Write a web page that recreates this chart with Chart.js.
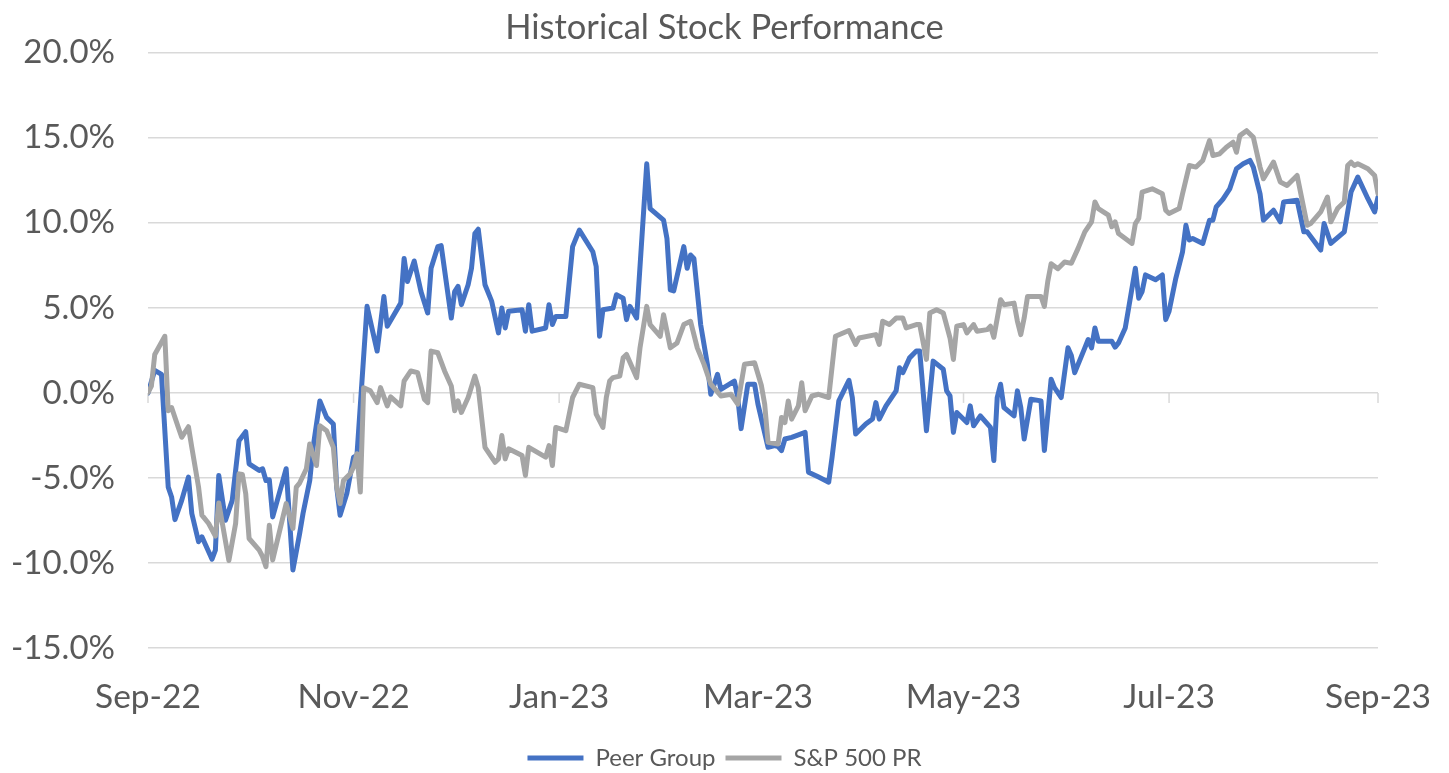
<!DOCTYPE html>
<html>
<head>
<meta charset="utf-8">
<title>Historical Stock Performance</title>
<script src="https://cdn.jsdelivr.net/npm/chart.js@4.4.0/dist/chart.umd.min.js"></script>
<style>
  html, body { margin: 0; padding: 0; background: #fff; overflow: hidden; }
  #wrap { width: 1449px; height: 780px; }
</style>
</head>
<body>
<div id="wrap"><canvas id="myChart"></canvas></div>
<script>
// x = days since 2022-09-01, y = % return
const tickDays = [0, 61, 122, 181, 242, 303, 365];
const tickLabels = ['Sep-22', 'Nov-22', 'Jan-23', 'Mar-23', 'May-23', 'Jul-23', 'Sep-23'];
const seriesNames = ['Peer Group', 'S&P 500 PR'];

const peerDays = [
  0, 2, 4, 6, 7, 8, 10, 12, 13, 15, 16, 19, 20, 21, 23, 25, 27, 29, 30, 33, 34, 35, 36, 37, 41, 43,
  45, 46, 48, 49, 51, 53, 55, 56, 57, 59, 61, 62, 65, 68, 70, 71, 73, 75, 76, 77, 79, 81, 83, 84, 86, 87,
  90, 91, 92, 93, 95, 96, 97, 98, 100, 102, 104, 105, 106, 107, 111, 112, 113, 114, 118, 119, 120, 121, 124, 126, 128,
  132, 133, 134, 135, 138, 139, 141, 142, 143, 145, 148, 149, 153, 154, 155, 156, 159, 160, 161, 162, 164, 166, 167,
  169, 170, 174, 175, 176, 178, 180, 181, 184, 186, 187, 188, 189, 191, 195, 196, 199, 202, 203, 205, 208, 209, 210,
  213, 215, 216, 217, 219, 222, 223, 224, 226, 228, 229, 231, 233, 236, 237, 238, 239, 240, 243, 244, 245, 247,
  250, 251, 252, 253, 254, 257, 258, 259, 260, 262, 265, 266, 268, 269, 271, 273, 274, 275, 278, 279, 280, 281, 282,
  286, 287, 288, 290, 291, 293, 294, 295, 296, 299, 301, 302, 303, 305, 307, 308, 309, 310, 313, 315, 316, 317,
  319, 321, 323, 325, 327, 328, 330, 331, 334, 336, 337, 341, 343, 344, 348, 349, 351, 355, 357, 359, 362, 364, 365
];
const peerValues = [
  0.0, 1.33, 1.09, -5.54, -6.12, -7.45, -6.32, -4.95, -7.09, -8.75, -8.46, -9.78, -9.24, -4.85, -7.49, -6.32, -2.81, -2.28, -4.17, -4.56, -4.46, -5.15, -5.11, -7.29, -4.46, -10.41,
  -8.27, -7.09, -5.15, -3.2, -0.47, -1.44, -1.83, -5.54, -7.19, -5.92, -3.78, -3.68, 5.09, 2.46, 5.67, 3.92, 4.6, 5.28, 7.91, 6.55, 7.76, 5.96, 4.7, 7.33, 8.6, 8.66,
  4.4, 5.96, 6.26, 5.19, 6.36, 7.33, 9.37, 9.63, 6.36, 5.38, 3.53, 4.99, 3.82, 4.8, 4.89, 3.63, 5.19, 3.63, 3.82, 5.19, 4.02, 4.5, 4.5, 8.6, 9.57,
  8.3, 7.43, 3.33, 4.89, 4.99, 5.77, 5.57, 4.31, 5.09, 4.4, 13.47, 10.84, 10.16, 9.08, 6.06, 6.0, 8.6, 7.33, 8.11, 7.91, 4.02, 1.68, -0.08,
  1.09, 0.21, 0.7, -0.27, -2.1, 0.51, 0.51, -0.66, -3.2, -3.1, -3.16, -3.39, -2.71, -2.61, -2.32, -4.66, -4.95, -5.25, -3.78, -0.47, 0.74, -0.27, -2.42,
  -1.83, -1.54, -0.57, -1.54, -0.76, 0.12, 1.48, 1.19, 2.06, 2.46, 2.46, -2.22, 1.87, 1.39, 0.12, -0.18, -2.32, -1.15, -1.74, -0.76, -1.93, -1.35,
  -2.03, -3.98, -0.27, 0.51, -0.86, -1.35, 0.12, -0.86, -2.71, -0.37, -0.47, -3.39, 0.8, 0.31, -0.27, 2.65, 2.2, 1.19, 2.65, 3.14, 2.65, 3.82, 3.04,
  3.04, 2.69, 2.94, 3.82, 4.99, 7.33, 5.57, 5.96, 6.94, 6.65, 6.94, 4.31, 4.8, 6.74, 8.3, 9.86, 8.99, 9.08, 8.79, 10.16, 10.16, 10.94,
  11.4, 12.0, 13.18, 13.47, 13.67, 13.28, 11.71, 10.16, 10.74, 10.06, 11.23, 11.33, 9.47, 9.47, 8.4, 9.96, 8.79, 9.47, 11.81, 12.69, 11.42, 10.64, 11.52
];

const spDays = [
  0, 1, 2, 5, 6, 7, 9, 10, 12, 13, 15, 16, 18, 20, 21, 24, 26, 27, 28, 29, 30, 33, 34, 35, 36, 37, 41, 43, 44, 45,
  47, 48, 50, 51, 53, 55, 56, 57, 58, 60, 61, 62, 63, 64, 66, 68, 69, 71, 72, 75, 76, 78, 80, 82, 83, 84, 86, 88,
  90, 91, 92, 93, 95, 97, 98, 100, 103, 104, 105, 106, 107, 111, 112, 113, 118, 119, 120, 121, 124, 126, 128,
  132, 133, 135, 136, 137, 138, 140, 141, 142, 145, 146, 148, 149, 152, 153, 155, 157, 159, 161, 163, 165, 167,
  170, 173, 175, 177, 180, 182, 183, 184, 187, 188, 189, 190, 191, 193, 194, 195, 197, 199, 202, 204, 208, 210, 211,
  216, 217, 218, 220, 222, 224, 225, 228, 229, 231, 232, 234, 236, 238, 239, 240, 242, 243, 245, 246, 249,
  250, 251, 253, 254, 257, 258, 259, 260, 261, 265, 266, 267, 268, 270, 272, 274, 276, 278, 280, 281, 282,
  285, 286, 287, 288, 292, 293, 294, 295, 298, 301, 302, 303, 306, 307, 309, 311, 313, 315, 316, 318,
  320, 322, 323, 324, 326, 328, 330, 331, 334, 336, 338, 341, 344, 345, 348, 350, 351, 353, 355, 356, 357, 358, 359, 362, 364, 365
];
const spValues = [
  0.02, 0.4, 2.26, 3.33, -1.05, -0.86, -2.03, -2.61, -1.99, -3.2, -5.54, -7.19, -7.68, -8.42, -6.47, -9.86, -7.68, -4.76, -4.8, -5.92, -8.56, -9.24, -9.63, -10.22, -7.78, -9.82, -6.51, -7.97, -5.54, -5.3,
  -4.46, -3.0, -4.27, -1.93, -2.22, -3.2, -5.54, -6.51, -5.15, -4.76, -4.37, -3.58, -5.83, 0.31, 0.12, -0.57, 0.31, -0.76, -0.23, -0.76, 0.7, 1.29, 1.19, -0.37, -0.57, 2.46, 2.36, 1.29,
  0.41, -1.05, -0.47, -1.15, -0.27, 0.99, 0.31, -3.2, -4.08, -3.88, -2.51, -3.88, -3.29, -3.68, -4.85, -3.2, -3.78, -3.1, -4.27, -2.03, -2.22, -0.27, 0.51,
  0.31, -1.25, -2.03, -0.27, 0.7, 0.9, 0.99, 2.06, 2.26, 0.9, 2.65, 5.09, 4.02, 3.33, 4.6, 2.65, 2.94, 4.02, 4.21, 2.65, 1.68, 0.51,
  -0.18, -0.08, -0.66, 1.68, 1.77, 0.45, -0.66, -2.9, -3.0, -1.44, -1.74, -0.47, -1.54, -0.76, 0.6, -1.05, -0.18, -0.08, -0.27, 3.33, 3.67, 2.85, 3.23,
  3.43, 2.85, 4.21, 4.02, 4.4, 4.4, 3.82, 4.02, 4.02, 1.97, 4.7, 4.89, 4.7, 3.23, 1.97, 3.92, 4.02, 3.53, 4.02, 3.63, 3.72,
  3.92, 3.27, 5.48, 5.19, 5.28, 4.21, 3.43, 4.4, 5.67, 5.67, 5.09, 6.55, 7.6, 7.3, 7.7, 7.62, 8.5, 9.47, 10.06, 11.23, 10.84,
  10.45, 9.77, 10.06, 9.37, 8.79, 9.96, 10.26, 11.81, 12.0, 11.71, 10.74, 10.55, 10.84, 11.71, 13.37, 13.28, 13.67, 14.84, 13.96, 14.06,
  14.45, 14.74, 14.15, 15.13, 15.42, 15.03, 13.28, 12.59, 13.57, 12.4, 12.2, 12.79, 9.86, 9.96, 10.64, 11.52, 10.06, 10.84, 11.23, 13.37, 13.57, 13.37, 13.47, 13.18, 12.79, 11.71
];

const fontFamily = 'Lato, "Noto Sans", sans-serif';
Chart.defaults.font.family = fontFamily;
Chart.defaults.color = '#595959';

// small tick marks hanging under the 0% line, like the Excel axis
const zeroAxisTicks = {
  id: 'zeroAxisTicks',
  beforeDatasetsDraw(chart) {
    const { ctx, scales: { x, y } } = chart;
    const y0 = y.getPixelForValue(0);
    ctx.save();
    ctx.strokeStyle = '#d9d9d9';
    ctx.lineWidth = 1.5;
    tickDays.forEach(d => {
      const px = x.getPixelForValue(d);
      ctx.beginPath();
      ctx.moveTo(px, y0);
      ctx.lineTo(px, y0 + 10);
      ctx.stroke();
    });
    ctx.restore();
  }
};

const toPoints = (days, values) => days.map((d, i) => ({ x: d, y: values[i] }));

new Chart(document.getElementById('myChart'), {
  type: 'line',
  data: {
    datasets: [
      {
        label: seriesNames[0],
        data: toPoints(peerDays, peerValues),
        borderColor: '#4472c4',
        backgroundColor: '#4472c4',
        borderWidth: 5,
        borderJoinStyle: 'round',
        borderCapStyle: 'round',
        pointRadius: 0,
        tension: 0,
        order: 1,
      },
      {
        label: seriesNames[1],
        data: toPoints(spDays, spValues),
        borderColor: '#a5a5a5',
        backgroundColor: '#a5a5a5',
        borderWidth: 5,
        borderJoinStyle: 'round',
        borderCapStyle: 'round',
        pointRadius: 0,
        tension: 0,
        order: 0,
      },
    ],
  },
  options: {
    responsive: true,
    maintainAspectRatio: false,
    animation: false,
    layout: { padding: 0 },
    plugins: {
      title: {
        display: true,
        text: 'Historical Stock Performance',
        color: '#595959',
        font: { size: 34.5, weight: 'normal' },
        padding: { top: 5, bottom: 4 },
      },
      legend: {
        position: 'bottom',
        labels: {
          usePointStyle: true,
          pointStyle: 'line',
          pointStyleWidth: 56,
          font: { size: 24 },
          color: '#595959',
          padding: 10,
          sort: (a, b) => a.datasetIndex - b.datasetIndex,
        },
      },
      tooltip: { enabled: false },
    },
    scales: {
      x: {
        type: 'linear',
        min: 0,
        max: 365,
        grid: { display: false, drawTicks: false },
        border: { display: false },
        afterBuildTicks: (scale) => {
          scale.ticks = tickDays.map(v => ({ value: v }));
        },
        afterFit: (scale) => { scale.height = 88; },
        ticks: {
          autoSkip: false,
          maxRotation: 0,
          padding: 15,
          font: { size: 33.5, lineHeight: 2.03 },
          color: '#595959',
          callback: (v) => tickLabels[tickDays.indexOf(v)],
        },
      },
      y: {
        min: -15,
        max: 20,
        grid: { color: '#d9d9d9', lineWidth: 1.5, drawTicks: false },
        border: { display: false },
        afterFit: (scale) => { scale.width = 148; },
        ticks: {
          stepSize: 5,
          padding: 33,
          font: { size: 33 },
          color: '#595959',
          callback: (v) => v.toFixed(1) + '%',
        },
      },
      // empty right-hand box, keeps the plot clear of the right edge
      yRight: {
        position: 'right',
        min: -15,
        max: 20,
        grid: { display: false },
        border: { display: false },
        ticks: { display: false },
        afterFit: (scale) => { scale.width = 71; },
      },
    },
  },
  plugins: [zeroAxisTicks],
});
</script>
</body>
</html>
